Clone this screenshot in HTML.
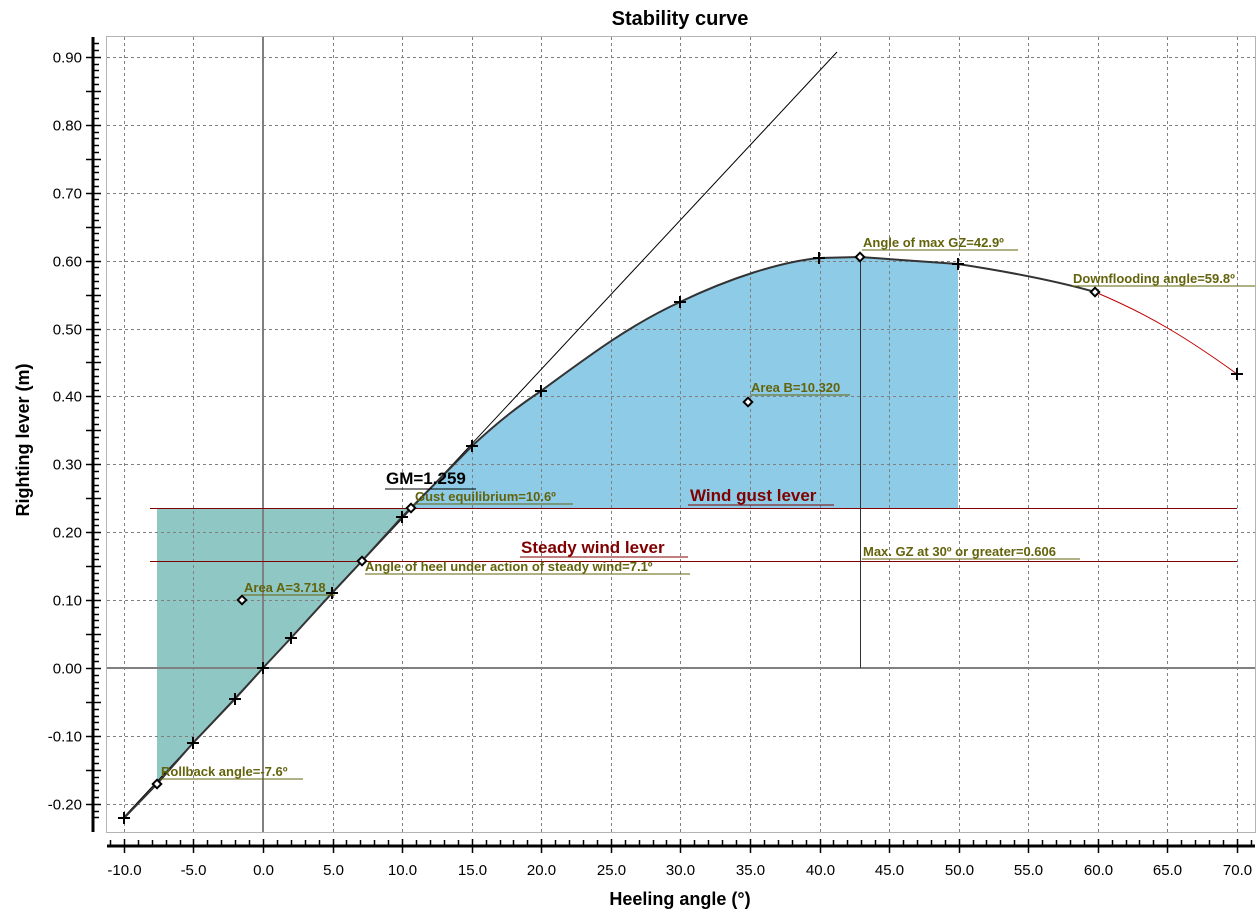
<!DOCTYPE html>
<html><head><meta charset="utf-8"><style>
html,body{margin:0;padding:0;background:#fff}
svg{display:block;font-family:"Liberation Sans",Arial,sans-serif}
.ann{font-size:13px;font-weight:bold;fill:#63630c}
</style></head><body>
<svg id="s" width="1260" height="920" viewBox="0 0 1260 920" xmlns="http://www.w3.org/2000/svg">
<rect width="1260" height="920" fill="#fff"/>
<g id="grid"></g>
<polygon fill="#8fc7c4" points="157,508 411,508 402,517 362,561 332,593 291,638 263,668 235,699 193,743 157,784"/>
<path fill="#8ecbe6" d="M411,508 L472,446 C500,420 520,405 541,391 C590,355 630,325 680,302 C730,278 780,262 819,258 L860,257 L958,264 L958,508 Z"/>
<g id="gridtop"></g>
<line x1="263" y1="36" x2="263" y2="832" stroke="#808080" stroke-width="2"/>
<line x1="106" y1="668" x2="1255" y2="668" stroke="#808080" stroke-width="2"/>
<rect x="106.5" y="36.5" width="1149" height="796" fill="none" stroke="#b4b4b4"/>
<line x1="150" y1="508.5" x2="1237" y2="508.5" stroke="#800000" stroke-width="1"/>
<line x1="150" y1="561.5" x2="1237" y2="561.5" stroke="#800000" stroke-width="1"/>
<line x1="860.5" y1="257" x2="860.5" y2="668" stroke="#333" stroke-width="1"/>
<line x1="124" y1="817" x2="837" y2="52" stroke="#000" stroke-width="1"/>
<path fill="none" stroke="#333" stroke-width="2" d="M124,818 L157,784 L193,743 L235,699 L263,668 L291,638 L332,593 L362,561 L402,517 L411,508 L472,446 C500,420 520,405 541,391 C590,355 630,325 680,302 C730,278 780,262 819,258 L860,257 L958,264 C1010,272 1060,282 1095,292"/>
<path fill="none" stroke="#c00000" stroke-width="1" d="M1095,292 C1150,315 1190,340 1237,374"/>
<g id="marks" stroke="#000" stroke-width="2"></g>
<g fill="#fff" stroke="#000" stroke-width="2">
<rect x="154" y="781" width="6" height="6" transform="rotate(45 157 784)"/>
<rect x="359" y="558" width="6" height="6" transform="rotate(45 362 561)"/>
<rect x="408" y="505" width="6" height="6" transform="rotate(45 411 508)"/>
<rect x="239" y="597" width="6" height="6" transform="rotate(45 242 600)"/>
<rect x="745" y="399" width="6" height="6" transform="rotate(45 748 402)"/>
<rect x="857" y="254" width="6" height="6" transform="rotate(45 860 257)"/>
<rect x="1092" y="289" width="6" height="6" transform="rotate(45 1095 292)"/>
</g>
<g class="ann">
<text x="161" y="776">Rollback angle=-7.6º</text><line x1="160" y1="779" x2="303" y2="779" stroke="#63630c"/>
<text x="244" y="592">Area A=3.718</text><line x1="243" y1="595" x2="335" y2="595" stroke="#63630c"/>
<text x="365" y="571">Angle of heel under action of steady wind=7.1º</text><line x1="365" y1="574" x2="690" y2="574" stroke="#63630c"/>
<text x="415" y="501">Gust equilibrium=10.6º</text><line x1="414" y1="504" x2="573" y2="504" stroke="#63630c"/>
<text x="751" y="392">Area B=10.320</text><line x1="750" y1="395" x2="850" y2="395" stroke="#63630c"/>
<text x="863" y="247">Angle of max GZ=42.9º</text><line x1="862" y1="250" x2="1018" y2="250" stroke="#63630c"/>
<text x="1073" y="283">Downflooding angle=59.8º</text><line x1="1072" y1="286" x2="1255" y2="286" stroke="#63630c"/>
<text x="863" y="556">Max. GZ at 30º or greater=0.606</text><line x1="862" y1="559" x2="1080" y2="559" stroke="#63630c"/>
</g>
<text x="386" y="484" font-size="17" font-weight="bold" fill="#000">GM=1.259</text><line x1="385" y1="489" x2="476" y2="489" stroke="#000"/>
<text x="690" y="501" font-size="17" font-weight="bold" fill="#800000">Wind gust lever</text><line x1="688" y1="505" x2="834" y2="505" stroke="#800000"/>
<text x="521" y="553" font-size="17" font-weight="bold" fill="#800000">Steady wind lever</text><line x1="520" y1="557" x2="688" y2="557" stroke="#800000"/>
<g id="axes" stroke="#000"></g>
<g id="labels" font-size="15" fill="#000"></g>
<text x="680" y="25" text-anchor="middle" font-size="20" font-weight="bold">Stability curve</text>
<text x="680" y="905" text-anchor="middle" font-size="18" font-weight="bold">Heeling angle (°)</text>
<text transform="translate(29 440) rotate(-90)" text-anchor="middle" font-size="18" font-weight="bold">Righting lever (m)</text>
</svg>
<script>
var NS="http://www.w3.org/2000/svg";
function el(p,t,a,txt){var e=document.createElementNS(NS,t);for(var k in a)e.setAttribute(k,a[k]);if(txt!==undefined)e.textContent=txt;document.getElementById(p).appendChild(e);return e;}
function X(d){return 263+d*13.9125;}
function Y(v){return 668-v*679;}
["grid","gridtop"].forEach(function(g){
for(var d=-10;d<=70;d+=5){var x=Math.round(X(d))+0.5;el(g,"line",{x1:x,y1:37,x2:x,y2:832,stroke:"#808080","stroke-dasharray":"3,3","stroke-width":1});}
for(var i=-2;i<=9;i++){var y=Math.round(Y(i/10))+0.5;el(g,"line",{x1:107,y1:y,x2:1255,y2:y,stroke:"#808080","stroke-dasharray":"3,3","stroke-width":1});}
});
el("axes","line",{x1:93,y1:37,x2:93,y2:832,"stroke-width":3});
for(var i=-22;i<=92;i++){var y=Math.round(Y(i/100))+0.5;var maj=i%10==0,mid=i%5==0;
el("axes","line",{x1:mid?86:93,y1:y,x2:maj?101:(mid?101:99),y2:y,"stroke-width":1.5});
if(maj&&i>=-20&&i<=90)el("labels","text",{x:82,y:y+5,"text-anchor":"end"},(i/100).toFixed(2));}
el("axes","line",{x1:107,y1:846,x2:1255,y2:846,"stroke-width":3});
for(var d=-11;d<=71;d++){var x=Math.round(X(d))+0.5;var maj=d%5==0;
el("axes","line",{x1:x,y1:maj?839:840,x2:x,y2:maj?853:846,"stroke-width":1.5});
if(maj&&d>=-10&&d<=70)el("labels","text",{x:x,y:875,"text-anchor":"middle"},d.toFixed(1));}
[[124,818],[193,743],[235,699],[263,668],[291,638],[332,593],[402,517],[472,446],[541,391],[680,302],[819,258],[958,264],[1237,374]].forEach(function(p){
el("marks","line",{x1:p[0]-6,y1:p[1],x2:p[0]+6,y2:p[1]});el("marks","line",{x1:p[0],y1:p[1]-6,x2:p[0],y2:p[1]+6});});
</script>
</body></html>
